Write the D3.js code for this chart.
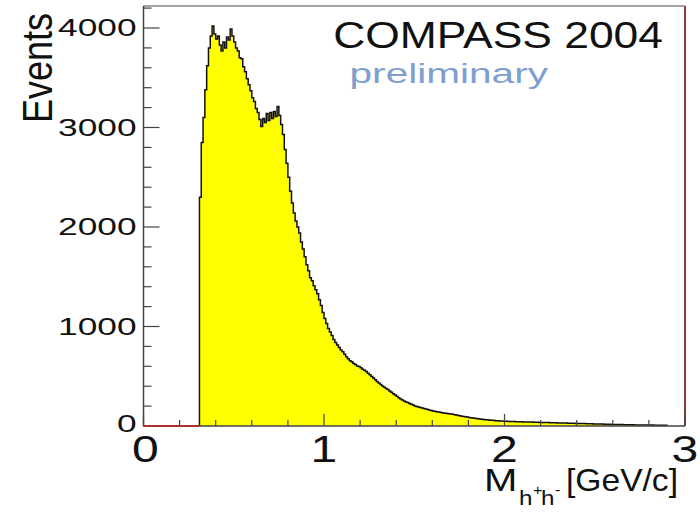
<!DOCTYPE html>
<html><head><meta charset="utf-8">
<script src="https://cdn.jsdelivr.net/npm/d3@7"></script>
<style>body{margin:0;background:#fff}svg{display:block}text{font-family:"Liberation Sans",Arial,sans-serif}</style>
</head><body>
<script>
// ---- data ----
const binStart = 0.31;
const binWidth = 0.01;
const counts = [
2300,2850,3100,3380,3620,3800,3920,4020,3940,3890,
3920,3830,3770,3860,3800,3910,3880,3990,3920,3860,
3800,3770,3700,3690,3610,3560,3490,3430,3370,3300,
3260,3190,3150,3080,3010,3090,3050,3140,3070,3150,
3090,3160,3110,3210,3120,3030,2930,2780,2640,2500,
2360,2240,2140,2060,2000,1940,1850,1780,1700,1620,
1560,1490,1460,1410,1370,1330,1270,1210,1140,1080,
1030,980,945,910,870,840,815,790,765,745,
720,695,675,655,645,628,618,602,598,585,
570,560,548,530,515,498,482,465,448,432,
418,402,390,378,368,352,340,325,312,298,
284,272,262,250,242,236,226,218,210,202,
196,192,186,180,176,170,166,160,156,150,
148,144,140,138,134,130,128,125,122,120,
117,114,110,106,102,99,96,92,90,86,
84,80,78,76,72,70,68,66,64,62,
60,59,57,55,54,52,51,50,49,47,
47,46,45,45,44,43,43,42,42,41,
41,40,40,39,39,38,37,37,36,36,
35,35,34,34,33,33,32,32,31,31,
30,30,29,29,28,28,27,27,26,26,
25,25,24,24,23,23,22,22,21,21,
20,20,19,19,18,18,17,17,16,16,
15,15,14,14,14,13,13,13,12,12,
12,11,11,11,10,10,10,10,9,9,
9,9,8,8,8,8,7,7,7
];
const xTickLabels = ["0","1","2","3"];
const yTickLabels = ["0","1000","2000","3000","4000"];
const title = "COMPASS 2004";
const subtitle = "preliminary";

// ---- layout ----
const W = 700, H = 513;
const x = d3.scaleLinear().domain([0, 3]).range([143.5, 685]);
const y = d3.scaleLinear().domain([0, 4221]).range([426, 6]);

const svg = d3.select("body").append("svg").attr("width", W).attr("height", H);

svg.append("clipPath").attr("id","clip").append("rect")
  .attr("x", x(0)).attr("y", y(4221)).attr("width", x(3)-x(0)).attr("height", y(0)-y(4221));

// histogram steps
const pts = [[binStart, 0]];
counts.forEach((c, i) => {
  const a = binStart + i * binWidth;
  pts.push([a, c]); pts.push([a + binWidth, c]);
});
pts.push([binStart + counts.length * binWidth, 0]);

const g = svg.append("g").attr("clip-path", "url(#clip)");
g.append("path")
  .attr("d", d3.area().x(d => x(d[0])).y0(y(0)).y1(d => y(d[1]))(pts))
  .attr("fill", "#ffff00");
g.append("path")
  .attr("d", d3.line().x(d => x(d[0])).y(d => y(d[1]))(pts))
  .attr("fill", "none").attr("stroke", "#111").attr("stroke-width", 1.5);

// frame
svg.append("line").attr("x1", x(0)).attr("x2", x(3)).attr("y1", y(4221)).attr("y2", y(4221))
  .attr("stroke", "#888").attr("stroke-width", 1.5);
svg.append("line").attr("x1", x(3)).attr("x2", x(3)).attr("y1", y(4221)).attr("y2", y(0))
  .attr("stroke", "#8b3a3a").attr("stroke-width", 2);

// y axis
const yg = svg.append("g");
yg.append("line").attr("x1", x(0)).attr("x2", x(0)).attr("y1", y(4221)).attr("y2", y(0))
  .attr("stroke", "#444").attr("stroke-width", 1.5);
y.ticks(21).filter(v => v % 200 === 0).forEach(v => {
  const major = v % 1000 === 0;
  yg.append("line").attr("x1", x(0)).attr("x2", x(0) + (major ? 16 : 8))
    .attr("y1", y(v)).attr("y2", y(v)).attr("stroke", "#444").attr("stroke-width", 1.2);
});
yTickLabels.forEach(t => {
  const v = +t;
  const yy = v === 0 ? y(v) + 6 : y(v) + 8.5;
  svg.append("text").attr("transform", `translate(${x(0) - 7},${yy}) scale(1.5,1)`)
    .attr("text-anchor", "end").attr("font-size", 23.5).attr("fill", "#111").text(t);
});

// x axis
const xg = svg.append("g");
xg.append("line").attr("x1", x(0)).attr("x2", x(3)).attr("y1", y(0)).attr("y2", y(0))
  .attr("stroke", "#444").attr("stroke-width", 1.5);
xg.append("line").attr("x1", x(0)).attr("x2", x(binStart)).attr("y1", y(0)).attr("y2", y(0))
  .attr("stroke", "#b03030").attr("stroke-width", 1.8);
d3.range(0, 16).map(i => i * 0.2).forEach(v => {
  const major = Math.abs(v - Math.round(v)) < 1e-6;
  xg.append("line").attr("x1", x(v)).attr("x2", x(v))
    .attr("y1", y(0)).attr("y2", y(0) - (major ? 12 : 6)).attr("stroke", "#444").attr("stroke-width", 1.2);
});
xTickLabels.forEach(t => {
  const v = +t;
  svg.append("text").attr("transform", `translate(${x(v) + (v === 0 ? 2 : 0)},${462}) scale(1.3,1)`)
    .attr("text-anchor", "middle").attr("font-size", 37).attr("fill", "#111").text(t);
});

// axis titles
svg.append("text").attr("transform", "translate(52,13) rotate(-90) scale(1,1.2)")
  .attr("text-anchor", "end").attr("font-size", 36).attr("fill", "#111").text("Events");

const tt = svg.append("g").attr("fill", "#111");
tt.append("text").attr("transform", "translate(484,491) scale(1.25,1)")
  .attr("font-size", 32).text("M");
tt.append("text").attr("transform", "translate(519,505) scale(1.15,1)")
  .attr("font-size", 21).text("h");
tt.append("text").attr("transform", "translate(533,495) scale(1.15,1)")
  .attr("font-size", 14).text("+");
tt.append("text").attr("transform", "translate(541,505) scale(1.15,1)")
  .attr("font-size", 21).text("h");
tt.append("text").attr("transform", "translate(555,495) scale(1.15,1)")
  .attr("font-size", 14).text("-");
tt.append("text").attr("transform", "translate(678,491) scale(1.05,1)")
  .attr("text-anchor", "end").attr("font-size", 32).text("[GeV/c]");

// labels
svg.append("text").attr("transform", "translate(663,48) scale(1.2,1)")
  .attr("text-anchor", "end").attr("font-size", 37).attr("fill", "#111").text(title);
svg.append("text").attr("transform", "translate(548,83) scale(1.45,1)")
  .attr("text-anchor", "end").attr("font-size", 28).attr("fill", "#7f9fd0").text(subtitle);
</script>
</body></html>
